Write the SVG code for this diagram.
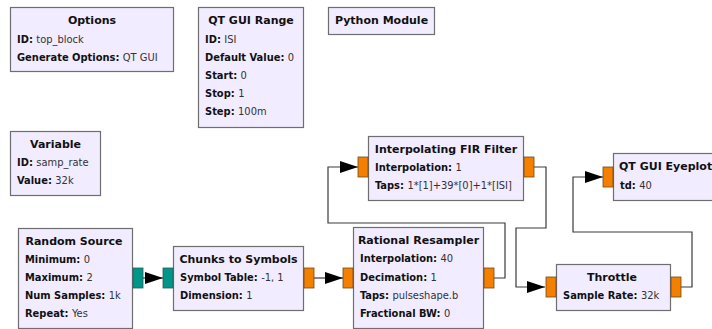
<svg xmlns="http://www.w3.org/2000/svg" width="712" height="329" viewBox="0 0 712 329">
  <style>
    .blk { fill: #f1ecff; stroke: #6e6e6e; stroke-width: 1.2; }
    .t { font-family: "DejaVu Sans Condensed", "DejaVu Sans", sans-serif; font-stretch: condensed; font-size: 11px; fill: #111; }
    .title { font-family: "DejaVu Sans", sans-serif; font-stretch: normal; font-weight: bold; text-anchor: middle; }
    .k { font-weight: bold; }
    .v { font-weight: normal; fill: #333; }
    .pc { fill: #f58000; stroke: #6a4a20; stroke-width: 0.8; }
    .pb { fill: #009688; stroke: #2f5a55; stroke-width: 0.8; }
    .wire { fill: none; stroke: #3a3a3a; stroke-width: 1.2; marker-end: url(#arr); }
  </style>
  <defs>
    <marker id="arr" markerUnits="userSpaceOnUse" markerWidth="19" markerHeight="13" refX="18" refY="6.5" orient="auto">
      <path d="M0,0.5 L18,6.5 L0,12.5 Z" fill="#000"/>
    </marker>
  </defs>
  <rect width="712" height="329" fill="#fff"/>

  <g id="connectors">
    <path class="wire" d="M143,278 H163"/>
    <path class="wire" d="M314,278 H343"/>
    <path class="wire" d="M493,278 H505 V223 H328 V167 H358"/>
    <path class="wire" d="M533,167 H546 V228 H516 V287 H545"/>
    <path class="wire" d="M680,287 H692 V232 H573 V177 H603"/>
  </g>

  <g id="options">
    <rect class="blk" x="10.5" y="7.5" width="163" height="64"/>
    <text class="t title" x="92" y="24">Options</text>
    <text class="t k" x="17" y="43">ID: <tspan class="v">top_block</tspan></text>
    <text class="t k" x="17" y="61">Generate Options: <tspan class="v">QT GUI</tspan></text>
  </g>

  <g id="qt_gui_range">
    <rect class="blk" x="198.5" y="7.5" width="105" height="120"/>
    <text class="t title" x="251" y="24">QT GUI Range</text>
    <text class="t k" x="205" y="43">ID: <tspan class="v">ISI</tspan></text>
    <text class="t k" x="205" y="61">Default Value: <tspan class="v">0</tspan></text>
    <text class="t k" x="205" y="79">Start: <tspan class="v">0</tspan></text>
    <text class="t k" x="205" y="97">Stop: <tspan class="v">1</tspan></text>
    <text class="t k" x="205" y="115">Step: <tspan class="v">100m</tspan></text>
  </g>

  <g id="python_module">
    <rect class="blk" x="328.5" y="7.5" width="106" height="27"/>
    <text class="t title" x="381.5" y="24">Python Module</text>
  </g>

  <g id="variable">
    <rect class="blk" x="10.5" y="131.5" width="90" height="64"/>
    <text class="t title" x="55.5" y="148">Variable</text>
    <text class="t k" x="17" y="166">ID: <tspan class="v">samp_rate</tspan></text>
    <text class="t k" x="17" y="184">Value: <tspan class="v">32k</tspan></text>
  </g>

  <g id="random_source">
    <rect class="blk" x="18.5" y="228.5" width="114" height="100"/>
    <text class="t title" x="74" y="245">Random Source</text>
    <text class="t k" x="25" y="263">Minimum: <tspan class="v">0</tspan></text>
    <text class="t k" x="25" y="281">Maximum: <tspan class="v">2</tspan></text>
    <text class="t k" x="25" y="299">Num Samples: <tspan class="v">1k</tspan></text>
    <text class="t k" x="25" y="317">Repeat: <tspan class="v">Yes</tspan></text>
    <rect class="pb" x="133" y="268" width="10" height="20"/>
  </g>

  <g id="chunks_to_symbols">
    <rect class="blk" x="173.5" y="246.5" width="130" height="64"/>
    <text class="t title" x="238.5" y="263">Chunks to Symbols</text>
    <text class="t k" x="180" y="281">Symbol Table: <tspan class="v">-1, 1</tspan></text>
    <text class="t k" x="180" y="299">Dimension: <tspan class="v">1</tspan></text>
    <rect class="pb" x="163" y="268" width="10" height="20"/>
    <rect class="pc" x="304" y="268" width="10" height="20"/>
  </g>

  <g id="rational_resampler">
    <rect class="blk" x="353.5" y="227.5" width="130" height="101"/>
    <text class="t title" x="418.5" y="244">Rational Resampler</text>
    <text class="t k" x="360" y="262">Interpolation: <tspan class="v">40</tspan></text>
    <text class="t k" x="360" y="281">Decimation: <tspan class="v">1</tspan></text>
    <text class="t k" x="360" y="299">Taps: <tspan class="v">pulseshape.b</tspan></text>
    <text class="t k" x="360" y="317">Fractional BW: <tspan class="v">0</tspan></text>
    <rect class="pc" x="343" y="268" width="10" height="20"/>
    <rect class="pc" x="484" y="268" width="10" height="20"/>
  </g>

  <g id="interp_fir_filter">
    <rect class="blk" x="368.5" y="136.5" width="155" height="64"/>
    <text class="t title" x="446" y="153">Interpolating FIR Filter</text>
    <text class="t k" x="375" y="171">Interpolation: <tspan class="v">1</tspan></text>
    <text class="t k" x="375" y="189">Taps: <tspan class="v">1*[1]+39*[0]+1*[ISI]</tspan></text>
    <rect class="pc" x="358" y="157" width="10" height="20"/>
    <rect class="pc" x="524" y="157" width="10" height="20"/>
  </g>

  <g id="throttle">
    <rect class="blk" x="556.5" y="264.5" width="114" height="46"/>
    <text class="t title" x="612" y="281">Throttle</text>
    <text class="t k" x="563" y="299">Sample Rate: <tspan class="v">32k</tspan></text>
    <rect class="pc" x="546" y="277" width="10" height="20"/>
    <rect class="pc" x="671" y="277" width="10" height="20"/>
  </g>

  <g id="qt_gui_eyeplot">
    <rect class="blk" x="613.5" y="153.5" width="110" height="47"/>
    <text class="t title" x="619" y="170" style="text-anchor:start">QT GUI Eyeplot</text>
    <text class="t k" x="620" y="189">td: <tspan class="v">40</tspan></text>
    <rect class="pc" x="603" y="167" width="10" height="20"/>
  </g>
</svg>
